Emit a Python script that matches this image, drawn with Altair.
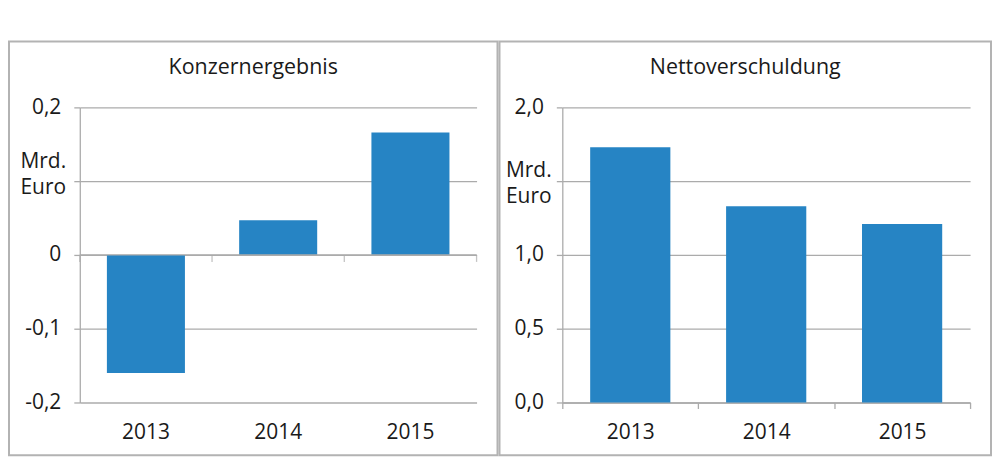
import altair as alt
import pandas as pd

years = ["2013", "2014", "2015"]
konzern = [-0.16, 0.047, 0.166]
netto = [1.73, 1.33, 1.21]

left_ticks = [-0.2, -0.1, 0.0, 0.1, 0.2]
right_ticks = [0.0, 0.5, 1.0, 1.5, 2.0]

BAR = "#2684C4"
GRID = "#ababab"
FRAME = "#b3b3b3"
TXT = "#1a1a1a"
FONT = "Open Sans"
FS = 21

df_l = pd.DataFrame({"year": years, "value": konzern})
df_r = pd.DataFrame({"year": years, "value": netto})
one = pd.DataFrame({"a": [0]})
last = pd.DataFrame({"year": [years[-1]]})

def yaxis(values, expr, tx, ty):
    return alt.Axis(
        values=values, labelExpr=expr, grid=True, gridColor=GRID, gridWidth=1.3,
        domain=True, domainColor=GRID, domainWidth=1.3,
        ticks=True, tickColor=GRID, tickWidth=1.3, tickSize=6, labelPadding=13,
        title=["Mrd.", "Euro"], titleAngle=0, titleX=tx, titleY=ty,
        titleAlign="left", titleBaseline="alphabetic", titleFontWeight="normal",
        titleFontSize=FS, titleLineHeight=26, titleColor=TXT, titleFont=FONT,
    )

xscale = alt.Scale(paddingInner=0, paddingOuter=0)

# ---------- left panel ----------
lexpr = ("abs(datum.value - 0.1) < 1e-9 ? '' : (datum.value == 0 ? '0' : "
         "replace(replace(format(datum.value, '.1f'), '.', ','), '\u2212', '-'))")
bars_l = alt.Chart(df_l).mark_bar(color=BAR, width=alt.RelativeBandSize(0.59)).encode(
    x=alt.X("year:N", scale=xscale, sort=years,
            axis=alt.Axis(title=None, domain=False, ticks=False, tickSize=0,
                          labelPadding=19, labelAngle=0, grid=False)),
    y=alt.Y("value:Q", scale=alt.Scale(domain=[-0.2, 0.2], nice=False),
            axis=yaxis(left_ticks, lexpr, -60, 60)),
)
zero_l = alt.Chart(one).mark_rule(color=GRID, strokeWidth=1.3).encode(y=alt.datum(0))
ticks_l = alt.Chart(df_l).mark_tick(orient="vertical", color=GRID, thickness=1.3,
                                    size=7, yOffset=3.5).encode(
    x=alt.X("year:N", bandPosition=0, sort=years), y=alt.datum(0))
ticks_l2 = alt.Chart(last).mark_tick(orient="vertical", color=GRID, thickness=1.3,
                                     size=7, yOffset=3.5).encode(
    x=alt.X("year:N", bandPosition=1, sort=years), y=alt.datum(0))
frame_l = alt.Chart(one).mark_rect(fillOpacity=0, stroke=FRAME, strokeWidth=2).encode(
    x=alt.value(-71), x2=alt.value(419), y=alt.value(-66), y2=alt.value(349))
title_l = alt.Chart(one).mark_text(text="Konzernergebnis", fontSize=21.5, font=FONT,
                                   color=TXT, align="center", baseline="alphabetic").encode(
    x=alt.value(174), y=alt.value(-33))
left = alt.layer(bars_l, zero_l, ticks_l, ticks_l2, frame_l, title_l).properties(
    width=398, height=296)

# ---------- right panel ----------
rexpr = ("abs(datum.value - 1.5) < 1e-9 ? '' : "
         "replace(format(datum.value, '.1f'), '.', ',')")
bars_r = alt.Chart(df_r).mark_bar(color=BAR, width=alt.RelativeBandSize(0.59)).encode(
    x=alt.X("year:N", scale=xscale, sort=years,
            axis=alt.Axis(title=None, domain=True, domainColor=GRID, domainWidth=1.3,
                          ticks=True, tickBand="extent", tickColor=GRID, tickWidth=1.3,
                          tickSize=6, labelPadding=13, labelAngle=0, grid=False)),
    y=alt.Y("value:Q", scale=alt.Scale(domain=[0, 2.0], nice=False),
            axis=yaxis(right_ticks, rexpr, -57, 69)),
)
frame_r = alt.Chart(one).mark_rect(fillOpacity=0, stroke=FRAME, strokeWidth=2).encode(
    x=alt.value(-63), x2=alt.value(430), y=alt.value(-66), y2=alt.value(349))
title_r = alt.Chart(one).mark_text(text="Nettoverschuldung", fontSize=21.5, font=FONT,
                                   color=TXT, align="center", baseline="alphabetic").encode(
    x=alt.value(183.5), y=alt.value(-33))
right = alt.layer(bars_r, frame_r, title_r).properties(width=409, height=296)

chart = alt.hconcat(left, right, spacing=0).properties(
    padding={"left": 0, "top": 32, "right": 0, "bottom": 0}
).configure_view(stroke=None).configure_axis(
    labelFont=FONT, labelFontSize=FS, labelColor=TXT
)

chart.save("out.html", embed_options={"renderer": "svg", "actions": False})
